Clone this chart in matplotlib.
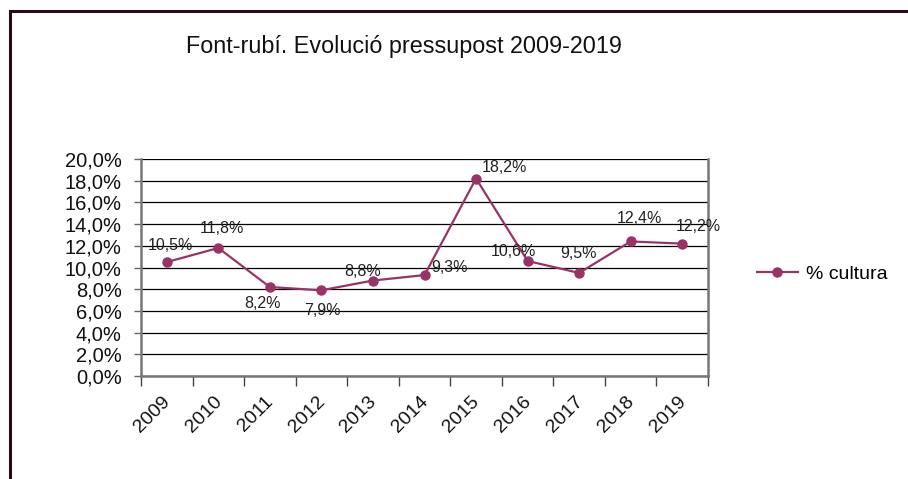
import matplotlib
matplotlib.use('Agg')
from matplotlib import pyplot as plt
from matplotlib.lines import Line2D
from matplotlib.transforms import ScaledTranslation

plt.rcParams['font.family'] = ['Liberation Sans', 'DejaVu Sans']

## data
years = ['2009', '2010', '2011', '2012', '2013', '2014', '2015', '2016', '2017', '2018', '2019']
cultura = [10.5, 11.8, 8.2, 7.9, 8.8, 9.3, 18.2, 10.6, 9.5, 12.4, 12.2]
labels = ['10,5%', '11,8%', '8,2%', '7,9%', '8,8%', '9,3%', '18,2%', '10,6%', '9,5%', '12,4%', '12,2%']
# where each data label sits relative to its point (pixels)
label_offsets = [(4, 17), (4, 19), (-7, -16), (1, -20), (-10, 9), (25, 8),
                 (28, 11), (-14, 9), (-1, 19), (9, 23), (16, 17)]

color = '#993366'

fig = plt.figure(figsize=(9.08, 4.79), dpi=100)
ax = fig.add_axes([141/908, 1-376/479, 567/908, 217/479])

x = list(range(len(years)))
ax.plot(x, cultura, color=color, lw=1.6, marker='o', ms=6.5, label='% cultura', zorder=3)

for i in range(len(x)):
    ax.annotate(labels[i], (x[i], cultura[i]), xytext=label_offsets[i],
                textcoords='offset pixels', ha='center', va='center',
                fontsize=11.5, color='#222222', zorder=4)

ax.set_xlim(-0.5, len(years) - 0.5)
ax.set_ylim(0, 20)
ax.set_yticks([0, 2, 4, 6, 8, 10, 12, 14, 16, 18, 20])
ax.yaxis.set_major_formatter(plt.FuncFormatter(lambda v, p: ('%.1f%%' % v).replace('.', ',')))
ax.tick_params(axis='y', labelsize=14.5, length=5, width=1, color='#666666', pad=9, labelcolor='#111111')

# category ticks sit between the categories, labels at the centres
ax.set_xticks([i - 0.5 for i in range(len(years) + 1)])
ax.set_xticklabels([])
ax.tick_params(axis='x', length=7, width=1, color='#444444')
ax.set_xticks(x, minor=True)
ax.set_xticklabels(years, minor=True, rotation=45, ha='right', rotation_mode='anchor', fontsize=14)
ax.tick_params(axis='x', which='minor', length=0, pad=12.5, labelcolor='#111111')
shift = ScaledTranslation(-5/100, 0, fig.dpi_scale_trans)
for t in ax.get_xticklabels(minor=True):
    t.set_transform(t.get_transform() + shift)

ax.grid(axis='y', color='black', lw=0.9)
ax.set_axisbelow(True)
for s in ['left', 'bottom', 'right']:
    ax.spines[s].set_color('#777777')
    ax.spines[s].set_linewidth(1.8)
ax.spines['top'].set_visible(False)

ax.legend(loc='center left', bbox_to_anchor=(757/908, 1-274/479), bbox_transform=fig.transFigure,
          frameon=False, fontsize=14, handlelength=2.1, borderaxespad=0, handletextpad=0.4, borderpad=0)

fig.text(404/908, 1-46/479, 'Font-rubí. Evolució pressupost 2009-2019', ha='center', va='center',
         fontsize=16.8, color='#111111')

## outer frame, only top and left visible
fig.add_artist(Line2D([10/908, 10/908], [0, 1-11/479], transform=fig.transFigure, color='#2a0a18', lw=2.2))
fig.add_artist(Line2D([10/908, 1], [1-11/479, 1-11/479], transform=fig.transFigure, color='#2a0a18', lw=2.2))

fig.savefig('out.png', dpi=100)
